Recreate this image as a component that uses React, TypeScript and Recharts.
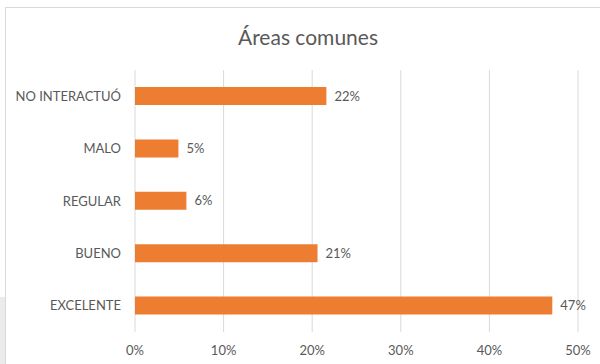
import React from 'react';
import { BarChart, Bar, XAxis, YAxis, CartesianGrid, LabelList } from 'recharts';

const categories = ['NO INTERACTUÓ', 'MALO', 'REGULAR', 'BUENO ', 'EXCELENTE'];
const values = [21.6, 4.9, 5.8, 20.6, 47.1];
const xTicks = [0, 10, 20, 30, 40, 50];
const title = 'Áreas comunes';

const data = categories.map((c, i) => ({ name: c, value: values[i] }));

const FONT = 'Lato, "Open Sans", sans-serif';
const TEXT = '#595959';

export default function App() {
  return (
    <div style={{ position: 'absolute', left: 0, top: 0, width: 600, height: 364, background: '#fff', overflow: 'hidden' }}>
      <div style={{ position: 'absolute', left: 0, top: 297, width: 5, height: 67, background: '#ebebeb' }} />
      <div style={{ position: 'absolute', left: 5, top: 7, width: 620, height: 400, border: '1px solid #d9d9d9', boxSizing: 'border-box' }} />
      <div style={{ position: 'absolute', left: 0, top: 24, width: 616, textAlign: 'center', fontFamily: FONT, fontSize: 21, color: TEXT }}>
        {title}
      </div>
      <div style={{ position: 'absolute', left: 0, top: 0 }}>
        <BarChart
          width={600}
          height={364}
          data={data}
          layout="vertical"
          margin={{ top: 70, right: 22, bottom: 8, left: 5 }}
        >
          <CartesianGrid horizontal={false} vertical={true} stroke="#d9d9d9" strokeWidth={1} />
          <XAxis
            type="number"
            domain={[0, 50]}
            ticks={xTicks}
            tickFormatter={(v: number) => `${v}%`}
            axisLine={false}
            tickLine={false}
            tickSize={0}
            tickMargin={14}
            height={24}
            tick={{ fill: TEXT, fontSize: 13, fontFamily: FONT }}
            interval={0}
          />
          <YAxis
            type="category"
            dataKey="name"
            width={130}
            axisLine={false}
            tickLine={false}
            tickSize={0}
            tickMargin={14}
            tick={{ fill: TEXT, fontSize: 13, fontFamily: FONT }}
            interval={0}
          />
          <Bar dataKey="value" fill="#ED7D31" barSize={18} isAnimationActive={false}>
            <LabelList
              dataKey="value"
              position="right"
              offset={8}
              formatter={(v: number) => `${Math.round(v)}%`}
              style={{ fill: TEXT, fontSize: 13, fontFamily: FONT }}
            />
          </Bar>
        </BarChart>
      </div>
    </div>
  );
}
